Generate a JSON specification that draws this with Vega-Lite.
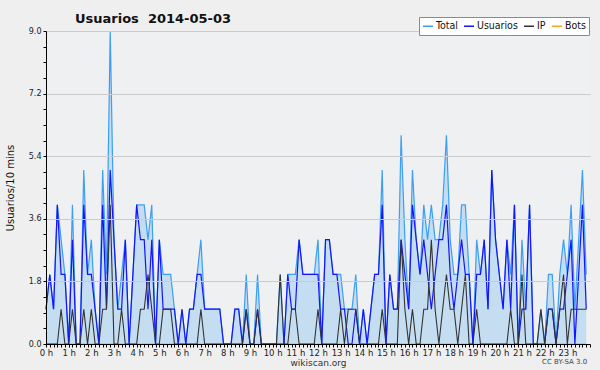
{
  "$schema": "https://vega.github.io/schema/vega-lite/v6.json",
  "width": 544,
  "height": 313,
  "autosize": {"type": "none"},
  "padding": {"left": 46, "top": 31, "right": 10, "bottom": 26},
  "background": "#efefef",
  "config": {"view": {"stroke": null, "fill": "#eef0f2"}, "font": "DejaVu Sans"},
  "title": {"text": "Usuarios\u00a0\u00a02014-05-03", "anchor": "start", "frame": "group", "dx": 29, "dy": 19, "baseline": "alphabetic", "fontSize": 13, "fontWeight": "bold", "color": "#111", "offset": 0, "font": "DejaVu Sans"},
  "data": {"values": [
      {"m":0,"Total":1,"Usuarios":1,"IP":0,"Bots":0},{"m":10,"Total":2,"Usuarios":2,"IP":0,"Bots":0},{"m":20,"Total":1,"Usuarios":1,"IP":0,"Bots":0},{"m":30,"Total":4,"Usuarios":4,"IP":0,"Bots":0},{"m":40,"Total":3,"Usuarios":2,"IP":1,"Bots":0},{"m":50,"Total":2,"Usuarios":2,"IP":0,"Bots":0},
      {"m":60,"Total":0,"Usuarios":0,"IP":0,"Bots":0},{"m":70,"Total":4,"Usuarios":3,"IP":1,"Bots":0},{"m":80,"Total":0,"Usuarios":0,"IP":0,"Bots":0},{"m":90,"Total":0,"Usuarios":0,"IP":0,"Bots":0},{"m":100,"Total":5,"Usuarios":4,"IP":1,"Bots":0},{"m":110,"Total":2,"Usuarios":2,"IP":0,"Bots":0},
      {"m":120,"Total":3,"Usuarios":2,"IP":1,"Bots":0},{"m":130,"Total":1,"Usuarios":1,"IP":0,"Bots":0},{"m":140,"Total":0,"Usuarios":0,"IP":0,"Bots":0},{"m":150,"Total":5,"Usuarios":4,"IP":1,"Bots":0},{"m":160,"Total":2,"Usuarios":1,"IP":1,"Bots":0},{"m":170,"Total":9,"Usuarios":5,"IP":4,"Bots":0},
      {"m":180,"Total":3,"Usuarios":3,"IP":0,"Bots":0},{"m":190,"Total":1,"Usuarios":1,"IP":0,"Bots":0},{"m":200,"Total":2,"Usuarios":1,"IP":1,"Bots":0},{"m":210,"Total":3,"Usuarios":3,"IP":0,"Bots":0},{"m":220,"Total":0,"Usuarios":0,"IP":0,"Bots":0},{"m":230,"Total":2,"Usuarios":2,"IP":0,"Bots":0},
      {"m":240,"Total":4,"Usuarios":4,"IP":0,"Bots":0},{"m":250,"Total":4,"Usuarios":3,"IP":1,"Bots":0},{"m":260,"Total":4,"Usuarios":3,"IP":1,"Bots":0},{"m":270,"Total":3,"Usuarios":1,"IP":2,"Bots":0},{"m":280,"Total":4,"Usuarios":3,"IP":1,"Bots":0},{"m":290,"Total":0,"Usuarios":0,"IP":0,"Bots":0},
      {"m":300,"Total":3,"Usuarios":3,"IP":0,"Bots":0},{"m":310,"Total":2,"Usuarios":1,"IP":1,"Bots":0},{"m":320,"Total":2,"Usuarios":1,"IP":1,"Bots":0},{"m":330,"Total":2,"Usuarios":1,"IP":1,"Bots":0},{"m":340,"Total":1,"Usuarios":1,"IP":0,"Bots":0},{"m":350,"Total":0,"Usuarios":0,"IP":0,"Bots":0},
      {"m":360,"Total":1,"Usuarios":1,"IP":0,"Bots":0},{"m":370,"Total":0,"Usuarios":0,"IP":0,"Bots":0},{"m":380,"Total":1,"Usuarios":1,"IP":0,"Bots":0},{"m":390,"Total":1,"Usuarios":1,"IP":0,"Bots":0},{"m":400,"Total":2,"Usuarios":2,"IP":0,"Bots":0},{"m":410,"Total":3,"Usuarios":2,"IP":1,"Bots":0},
      {"m":420,"Total":1,"Usuarios":1,"IP":0,"Bots":0},{"m":430,"Total":1,"Usuarios":1,"IP":0,"Bots":0},{"m":440,"Total":1,"Usuarios":1,"IP":0,"Bots":0},{"m":450,"Total":1,"Usuarios":1,"IP":0,"Bots":0},{"m":460,"Total":1,"Usuarios":1,"IP":0,"Bots":0},{"m":470,"Total":0,"Usuarios":0,"IP":0,"Bots":0},
      {"m":480,"Total":0,"Usuarios":0,"IP":0,"Bots":0},{"m":490,"Total":0,"Usuarios":0,"IP":0,"Bots":0},{"m":500,"Total":1,"Usuarios":1,"IP":0,"Bots":0},{"m":510,"Total":1,"Usuarios":1,"IP":0,"Bots":0},{"m":520,"Total":0,"Usuarios":0,"IP":0,"Bots":0},{"m":530,"Total":2,"Usuarios":1,"IP":1,"Bots":0},
      {"m":540,"Total":0,"Usuarios":0,"IP":0,"Bots":0},{"m":550,"Total":0,"Usuarios":0,"IP":0,"Bots":0},{"m":560,"Total":2,"Usuarios":1,"IP":1,"Bots":0},{"m":570,"Total":0,"Usuarios":0,"IP":0,"Bots":0},{"m":580,"Total":0,"Usuarios":0,"IP":0,"Bots":0},{"m":590,"Total":0,"Usuarios":0,"IP":0,"Bots":0},
      {"m":600,"Total":0,"Usuarios":0,"IP":0,"Bots":0},{"m":610,"Total":0,"Usuarios":0,"IP":0,"Bots":0},{"m":620,"Total":2,"Usuarios":0,"IP":2,"Bots":0},{"m":630,"Total":0,"Usuarios":0,"IP":0,"Bots":0},{"m":640,"Total":2,"Usuarios":2,"IP":0,"Bots":0},{"m":650,"Total":2,"Usuarios":1,"IP":1,"Bots":0},
      {"m":660,"Total":2,"Usuarios":1,"IP":1,"Bots":0},{"m":670,"Total":3,"Usuarios":3,"IP":0,"Bots":0},{"m":680,"Total":2,"Usuarios":2,"IP":0,"Bots":0},{"m":690,"Total":2,"Usuarios":2,"IP":0,"Bots":0},{"m":700,"Total":2,"Usuarios":2,"IP":0,"Bots":0},{"m":710,"Total":2,"Usuarios":2,"IP":0,"Bots":0},
      {"m":720,"Total":3,"Usuarios":2,"IP":1,"Bots":0},{"m":730,"Total":0,"Usuarios":0,"IP":0,"Bots":0},{"m":740,"Total":3,"Usuarios":3,"IP":0,"Bots":0},{"m":750,"Total":3,"Usuarios":3,"IP":0,"Bots":0},{"m":760,"Total":2,"Usuarios":2,"IP":0,"Bots":0},{"m":770,"Total":2,"Usuarios":2,"IP":0,"Bots":0},
      {"m":780,"Total":2,"Usuarios":1,"IP":1,"Bots":0},{"m":790,"Total":1,"Usuarios":1,"IP":0,"Bots":0},{"m":800,"Total":1,"Usuarios":0,"IP":1,"Bots":0},{"m":810,"Total":1,"Usuarios":0,"IP":1,"Bots":0},{"m":820,"Total":2,"Usuarios":1,"IP":1,"Bots":0},{"m":830,"Total":0,"Usuarios":0,"IP":0,"Bots":0},
      {"m":840,"Total":1,"Usuarios":1,"IP":0,"Bots":0},{"m":850,"Total":0,"Usuarios":0,"IP":0,"Bots":0},{"m":860,"Total":1,"Usuarios":1,"IP":0,"Bots":0},{"m":870,"Total":2,"Usuarios":2,"IP":0,"Bots":0},{"m":880,"Total":2,"Usuarios":2,"IP":0,"Bots":0},{"m":890,"Total":5,"Usuarios":4,"IP":1,"Bots":0},
      {"m":900,"Total":0,"Usuarios":0,"IP":0,"Bots":0},{"m":910,"Total":2,"Usuarios":2,"IP":0,"Bots":0},{"m":920,"Total":1,"Usuarios":1,"IP":0,"Bots":0},{"m":930,"Total":1,"Usuarios":1,"IP":0,"Bots":0},{"m":940,"Total":6,"Usuarios":3,"IP":3,"Bots":0},{"m":950,"Total":3,"Usuarios":2,"IP":1,"Bots":0},
      {"m":960,"Total":1,"Usuarios":1,"IP":0,"Bots":0},{"m":970,"Total":5,"Usuarios":4,"IP":1,"Bots":0},{"m":980,"Total":3,"Usuarios":3,"IP":0,"Bots":0},{"m":990,"Total":2,"Usuarios":2,"IP":0,"Bots":0},{"m":1000,"Total":4,"Usuarios":3,"IP":1,"Bots":0},{"m":1010,"Total":3,"Usuarios":2,"IP":1,"Bots":0},
      {"m":1020,"Total":4,"Usuarios":1,"IP":3,"Bots":0},{"m":1030,"Total":3,"Usuarios":2,"IP":1,"Bots":0},{"m":1040,"Total":3,"Usuarios":3,"IP":0,"Bots":0},{"m":1050,"Total":4,"Usuarios":3,"IP":1,"Bots":0},{"m":1060,"Total":6,"Usuarios":4,"IP":2,"Bots":0},{"m":1070,"Total":3,"Usuarios":2,"IP":1,"Bots":0},
      {"m":1080,"Total":2,"Usuarios":1,"IP":1,"Bots":0},{"m":1090,"Total":2,"Usuarios":2,"IP":0,"Bots":0},{"m":1100,"Total":4,"Usuarios":3,"IP":1,"Bots":0},{"m":1110,"Total":4,"Usuarios":2,"IP":2,"Bots":0},{"m":1120,"Total":2,"Usuarios":2,"IP":0,"Bots":0},{"m":1130,"Total":0,"Usuarios":0,"IP":0,"Bots":0},
      {"m":1140,"Total":3,"Usuarios":2,"IP":1,"Bots":0},{"m":1150,"Total":2,"Usuarios":2,"IP":0,"Bots":0},{"m":1160,"Total":3,"Usuarios":3,"IP":0,"Bots":0},{"m":1170,"Total":1,"Usuarios":1,"IP":0,"Bots":0},{"m":1180,"Total":5,"Usuarios":5,"IP":0,"Bots":0},{"m":1190,"Total":3,"Usuarios":3,"IP":0,"Bots":0},
      {"m":1200,"Total":2,"Usuarios":2,"IP":0,"Bots":0},{"m":1210,"Total":1,"Usuarios":1,"IP":0,"Bots":0},{"m":1220,"Total":3,"Usuarios":3,"IP":0,"Bots":0},{"m":1230,"Total":2,"Usuarios":1,"IP":1,"Bots":0},{"m":1240,"Total":4,"Usuarios":4,"IP":0,"Bots":0},{"m":1250,"Total":0,"Usuarios":0,"IP":0,"Bots":0},
      {"m":1260,"Total":3,"Usuarios":1,"IP":2,"Bots":0},{"m":1270,"Total":1,"Usuarios":1,"IP":0,"Bots":0},{"m":1280,"Total":4,"Usuarios":4,"IP":0,"Bots":0},{"m":1290,"Total":0,"Usuarios":0,"IP":0,"Bots":0},{"m":1300,"Total":0,"Usuarios":0,"IP":0,"Bots":0},{"m":1310,"Total":1,"Usuarios":0,"IP":1,"Bots":0},
      {"m":1320,"Total":0,"Usuarios":0,"IP":0,"Bots":0},{"m":1330,"Total":2,"Usuarios":1,"IP":1,"Bots":0},{"m":1340,"Total":2,"Usuarios":1,"IP":1,"Bots":0},{"m":1350,"Total":0,"Usuarios":0,"IP":0,"Bots":0},{"m":1360,"Total":2,"Usuarios":1,"IP":1,"Bots":0},{"m":1370,"Total":3,"Usuarios":1,"IP":2,"Bots":0},
      {"m":1380,"Total":2,"Usuarios":2,"IP":0,"Bots":0},{"m":1390,"Total":4,"Usuarios":3,"IP":1,"Bots":0},{"m":1400,"Total":1,"Usuarios":0,"IP":1,"Bots":0},{"m":1410,"Total":3,"Usuarios":2,"IP":1,"Bots":0},{"m":1420,"Total":5,"Usuarios":4,"IP":1,"Bots":0},{"m":1430,"Total":2,"Usuarios":1,"IP":1,"Bots":0}
  ]},
  "transform": [{"fold": ["Total", "Usuarios", "IP", "Bots"], "as": ["serie", "v"]}],
  "encoding": {
    "x": {"field": "m", "type": "quantitative", "scale": {"domain": [0, 1440], "nice": false, "zero": true},
      "axis": {"title": "wikiscan.org", "values": [0,10,20,30,40,50,60,70,80,90,100,110,120,130,140,150,160,170,180,190,200,210,220,230,240,250,260,270,280,290,300,310,320,330,340,350,360,370,380,390,400,410,420,430,440,450,460,470,480,490,500,510,520,530,540,550,560,570,580,590,600,610,620,630,640,650,660,670,680,690,700,710,720,730,740,750,760,770,780,790,800,810,820,830,840,850,860,870,880,890,900,910,920,930,940,950,960,970,980,990,1000,1010,1020,1030,1040,1050,1060,1070,1080,1090,1100,1110,1120,1130,1140,1150,1160,1170,1180,1190,1200,1210,1220,1230,1240,1250,1260,1270,1280,1290,1300,1310,1320,1330,1340,1350,1360,1370,1380,1390,1400,1410,1420,1430,1440],
        "labelExpr": "(datum.value % 60 == 0 && datum.value < 1440) ? (datum.value / 60) + ' h' : ''",
        "grid": false, "domainColor": "#000", "tickColor": "#000", "tickSize": 3, "labelFontSize": 8.5, "labelColor": "#222", "labelPadding": 1, "labelOverlap": false, "labelSeparation": -16, "labelFlush": false, "labelBound": false, "titleFontSize": 9, "titleFontWeight": "normal", "titleColor": "#333", "titlePadding": 2, "zindex": 1}},
    "y": {"field": "v", "type": "quantitative", "scale": {"domain": [0, 9], "nice": false},
      "axis": {"title": "Usuarios/10 mins", "values": [0,0.45,0.9,1.35,1.8,2.25,2.7,3.15,3.6,4.05,4.5,4.95,5.4,5.85,6.3,6.75,7.2,7.65,8.1,8.55,9],
        "labelExpr": "abs(datum.value / 1.8 - round(datum.value / 1.8)) < 0.01 ? format(datum.value, '.1f') : ''",
        "grid": true, "gridColor": "#cbcbcb", "gridOpacity": {"condition": {"test": "datum.value > 0.1 && abs(datum.value / 1.8 - round(datum.value / 1.8)) < 0.01", "value": 1}, "value": 0},
        "domainColor": "#000", "tickColor": "#000", "tickSize": 3, "labelFontSize": 8, "labelColor": "#222", "labelPadding": 2, "labelOverlap": false, "labelSeparation": -12, "titleFontSize": 10, "titleFontWeight": "normal", "titleColor": "#111", "titlePadding": 13, "zindex": 1}}
  },
  "layer": [
    {
      "transform": [{"filter": "datum.serie == 'Total'"}],
      "mark": {"type": "area", "color": "#c5ddf1", "opacity": 1}
    },
    {
      "transform": [{"filter": "datum.serie == 'Bots'"}],
      "mark": {"type": "line", "strokeWidth": 1.2},
      "encoding": {
        "color": {"field": "serie", "type": "nominal", "scale": {"domain": ["Total", "Usuarios", "IP", "Bots"], "range": ["#3d9ef5", "#1414ff", "#333333", "#ffa31a"]},
          "legend": {"title": null, "orient": "none", "legendX": 373, "legendY": -14, "direction": "horizontal", "symbolType": "stroke", "symbolSize": 100, "symbolStrokeWidth": 1.5, "labelFont": "DejaVu Sans Condensed", "labelFontSize": 10.5, "labelColor": "#111", "labelOffset": 2, "columnPadding": 3, "fillColor": "#ffffff", "strokeColor": "#8a8a8a", "padding": 3, "zindex": 2}}
      }
    },
    {
      "transform": [{"filter": "datum.serie == 'Total'"}],
      "mark": {"type": "line", "strokeWidth": 1.2},
      "encoding": {"color": {"field": "serie", "type": "nominal"}}
    },
    {
      "transform": [{"filter": "datum.serie == 'Usuarios'"}],
      "mark": {"type": "line", "strokeWidth": 1.2},
      "encoding": {"color": {"field": "serie", "type": "nominal"}}
    },
    {
      "transform": [{"filter": "datum.serie == 'IP'"}],
      "mark": {"type": "line", "strokeWidth": 1.1},
      "encoding": {"color": {"field": "serie", "type": "nominal"}}
    },
    {
      "transform": [{"filter": "datum.serie == 'Total' && datum.m == 1430"}],
      "mark": {"type": "text", "align": "right", "baseline": "alphabetic", "dx": 1, "dy": 20, "fontSize": 7, "color": "#444"},
      "encoding": {"y": {"datum": 0}, "text": {"value": "CC BY-SA 3.0"}}
    }
  ]
}
